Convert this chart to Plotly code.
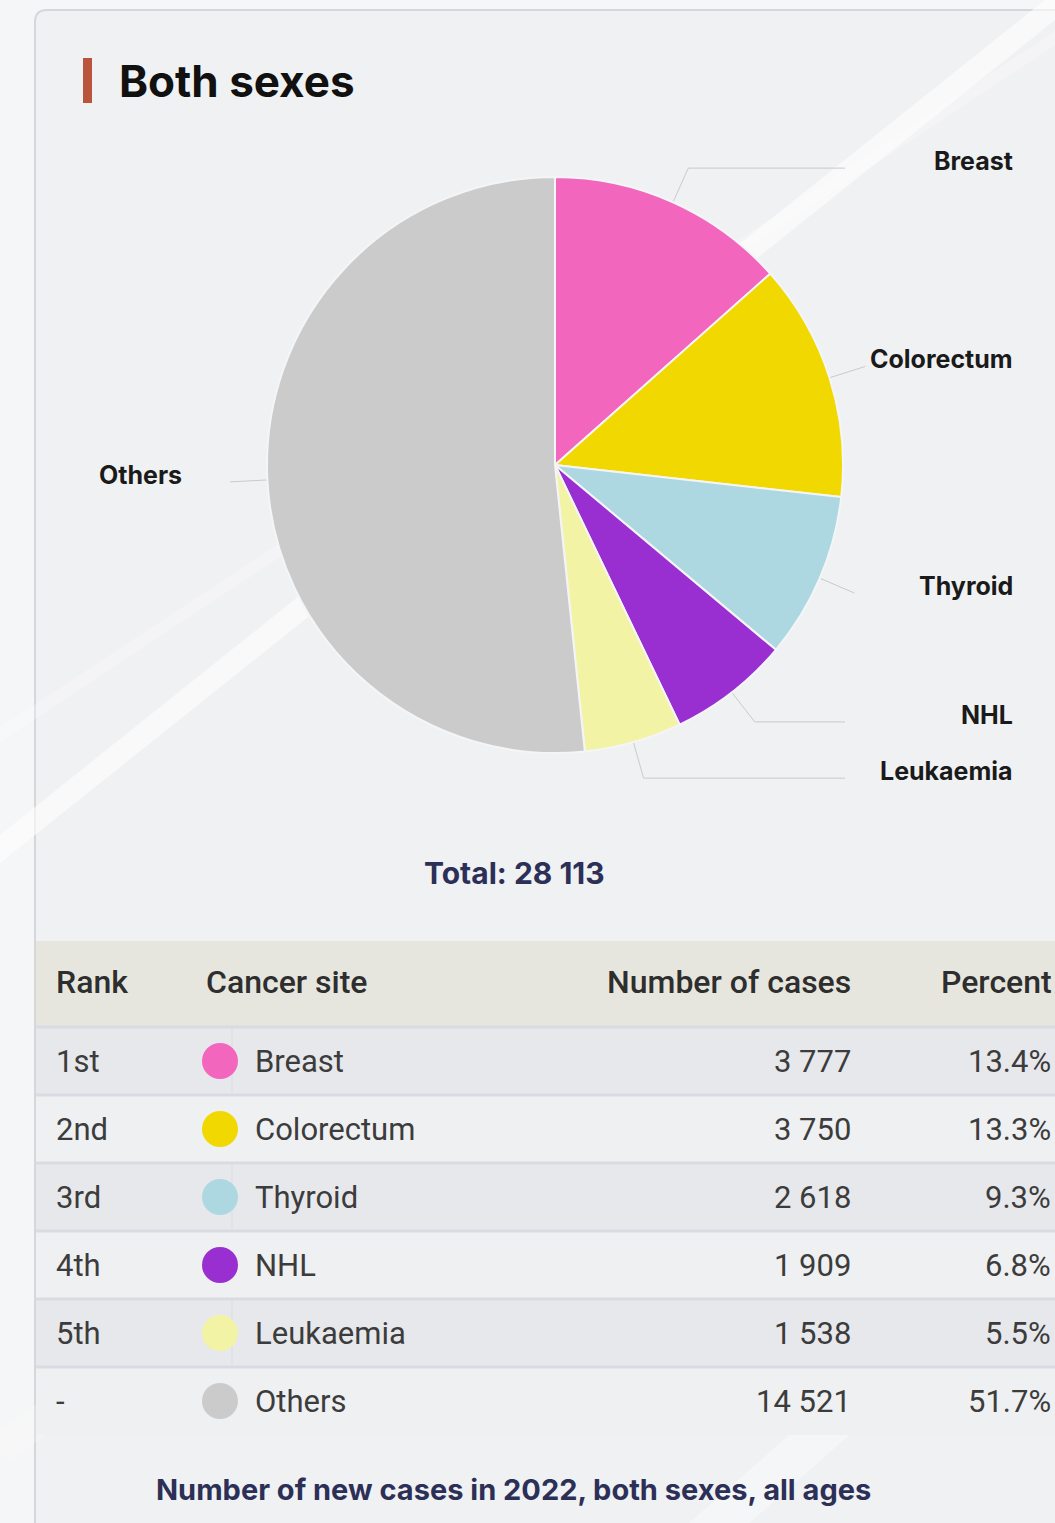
import math
import plotly.graph_objects as go

# ---------------- data ----------------
sites = ["Breast", "Colorectum", "Thyroid", "NHL", "Leukaemia", "Others"]
cases = [3777, 3750, 2618, 1909, 1538, 14521]
ranks = ["1st", "2nd", "3rd", "4th", "5th", "-"]
colors = ["#f266be", "#f0d800", "#aed8e1", "#9a2fd1", "#f3f3a6", "#cbcbcb"]
title_text = "Both sexes"
caption_text = "Number of new cases in 2022, both sexes, all ages"
headers = ["Rank", "Cancer site", "Number of cases", "Percent"]

total = sum(cases)
pct = [100.0 * v / total for v in cases]

def fmt_int(v):
    return f"{v:,}".replace(",", " ")

# ---------------- layout constants ----------------
W, H = 1055, 1523
CX, CY, R = 555, 465, 288
NAVY = "#2c3057"
TXT = "#3c3c3c"

fig = go.Figure()

# pie
fig.add_trace(go.Pie(
    labels=sites, values=cases, sort=False, direction="clockwise", rotation=0,
    marker=dict(colors=colors, line=dict(color="#f4f5f7", width=2)),
    textinfo="none", hoverinfo="label+value+percent", showlegend=False,
    domain=dict(x=[(CX - R) / W, (CX + R) / W], y=[1 - (CY + R) / H, 1 - (CY - R) / H]),
))

# leader lines and labels (computed from slice mid-angles)
annotations = []
cum = 0
for s, v in zip(sites, cases):
    mid = (cum + v / 2) / total * 2 * math.pi
    cum += v
    sx, sy = CX + R * math.sin(mid), CY - R * math.cos(mid)
    ex, ey = CX + 1.13 * R * math.sin(mid), CY - 1.13 * R * math.cos(mid)
    xs, ys = [sx, ex], [sy, ey]
    right = math.sin(mid) >= 0
    if right and ex < 845:
        xs.append(845)
        ys.append(ey)
    fig.add_trace(go.Scatter(x=xs, y=ys, mode="lines", line=dict(color="#c9cacd", width=1),
                             hoverinfo="skip", showlegend=False))
    annotations.append(dict(
        x=1015 if right else 97, y=ey - 7, xref="x", yref="y",
        xanchor="right" if right else "left", yanchor="middle",
        text=f"<b>{s}</b>", showarrow=False,
        font=dict(family="Inter", size=25, color="#1a1a1a")))

# table geometry
HEAD_TOP, HEAD_BOT, ROW_H = 941, 1027, 68
row_c = [HEAD_BOT + ROW_H * (i + 0.5) for i in range(len(sites))]

shapes = []
# background card
shapes.append(dict(type="rect", xref="x", yref="y", x0=0, x1=W, y0=0, y1=H,
                   fillcolor="#f5f6f7", line=dict(width=0), layer="below"))
shapes.append(dict(type="path", xref="x", yref="y",
                   path=f"M 35 {H+20} L 35 22 Q 35 10 47 10 L {W+20} 10 L {W+20} {H+20} Z",
                   fillcolor="#f0f1f3", line=dict(color="#d6d7db", width=2), layer="below"))
# decorative diagonal stripes
for (x0, y0, x1, y1, w, op) in [(1075, -10, -20, 865, 22, 0.6),
                                (1075, 25, -20, 748, 12, 0.25),
                                (1075, 1210, 700, 1540, 40, 0.35),
                                (600, 1000, 0, 1450, 30, 0.2)]:
    shapes.append(dict(type="line", xref="x", yref="y", x0=x0, y0=y0, x1=x1, y1=y1,
                       line=dict(color=f"rgba(255,255,255,{op})", width=w), layer="below"))
# title bar
shapes.append(dict(type="rect", xref="x", yref="y", x0=83, x1=92, y0=58, y1=103,
                   fillcolor="#b8553c", line=dict(width=0), layer="below"))
# header band
shapes.append(dict(type="rect", xref="x", yref="y", x0=36, x1=W + 5, y0=HEAD_TOP, y1=HEAD_BOT,
                   fillcolor="#e6e6df", line=dict(width=0), layer="below"))
for i in range(len(sites)):
    top = HEAD_BOT + ROW_H * i
    fill = "#e7e8eb" if i % 2 == 0 else "#eff0f2"
    shapes.append(dict(type="rect", xref="x", yref="y", x0=36, x1=W + 5, y0=top, y1=top + ROW_H,
                       fillcolor=fill, line=dict(width=0), layer="below"))
    shapes.append(dict(type="line", xref="x", yref="y", x0=36, x1=W + 5, y0=top, y1=top,
                       line=dict(color="#d8dce2", width=3), layer="below"))
    if i % 2 == 0:
        shapes.append(dict(type="line", xref="x", yref="y", x0=232, x1=232, y0=top + 2, y1=top + ROW_H - 2,
                           line=dict(color="#d9dce1", width=1), layer="below"))

# colored dots
fig.add_trace(go.Scatter(x=[220] * len(sites), y=row_c, mode="markers",
                         marker=dict(size=36, color=colors, line=dict(width=0)),
                         hoverinfo="skip", showlegend=False))

# title, total, caption
annotations.append(dict(x=117, y=81, xref="x", yref="y", xanchor="left", yanchor="middle",
                        text=f"<b>{title_text}</b>", showarrow=False,
                        font=dict(family="Inter", size=44, color="#111111")))
annotations.append(dict(x=514, y=873, xref="x", yref="y", xanchor="center", yanchor="middle",
                        text=f"<b>Total: {fmt_int(total)}</b>", showarrow=False,
                        font=dict(family="Inter", size=30, color=NAVY)))
annotations.append(dict(x=513, y=1489, xref="x", yref="y", xanchor="center", yanchor="middle",
                        text=f"<b>{caption_text}</b>", showarrow=False,
                        font=dict(family="Inter", size=29, color=NAVY)))

# header texts
hx = [54, 204, 853, 939]
hanc = ["left", "left", "right", "left"]
for t, x, a in zip(headers, hx, hanc):
    annotations.append(dict(x=x, y=982, xref="x", yref="y", xanchor=a, yanchor="middle",
                            text=t, showarrow=False,
                            font=dict(family="Roboto", size=32, color="#2e2e2e", weight=500)))

# row texts
for i in range(len(sites)):
    y = row_c[i]
    cells = [(54, "left", ranks[i], 0), (253, "left", sites[i], 0),
             (853, "right", fmt_int(cases[i]), 0), (W, "right", f"{pct[i]:.1f}%", -2)]
    for x, a, t, sh in cells:
        annotations.append(dict(x=x, y=y, xref="x", yref="y", xanchor=a, yanchor="middle",
                                text=t, showarrow=False, xshift=sh,
                                font=dict(family="Roboto", size=31, color=TXT)))

fig.update_layout(
    width=W, height=H, margin=dict(l=0, r=0, t=0, b=0),
    paper_bgcolor="#f5f6f7", plot_bgcolor="rgba(0,0,0,0)",
    xaxis=dict(range=[0, W], visible=False, fixedrange=True, domain=[0, 1]),
    yaxis=dict(range=[H, 0], visible=False, fixedrange=True, domain=[0, 1]),
    shapes=shapes, annotations=annotations, showlegend=False,
)

fig.write_html("out.html", config={"displayModeBar": False},
               post_script="document.body.style.margin='0';document.body.style.overflow='hidden';")
